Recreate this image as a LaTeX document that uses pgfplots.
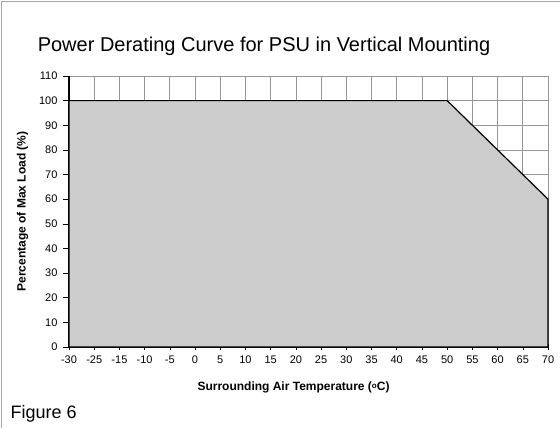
\documentclass[border=0pt]{standalone}
\usepackage{fontspec}
\setmainfont{Liberation Sans}
\usepackage{pgfplots}
\pgfplotsset{compat=1.18}
\definecolor{fillgray}{RGB}{204,204,204}
\definecolor{gridgray}{RGB}{150,150,150}
\begin{document}
\begin{tikzpicture}[x=1bp,y=1bp]
\path[use as bounding box, fill=white] (0,0) rectangle (560,428);
\draw[gray!70, line width=1.2bp] (1.5,0) -- (1.5,426.5) -- (560,426.5);
\node[anchor=center, font=\fontsize{20bp}{22bp}\selectfont] at (264,382) {Power Derating Curve for PSU in Vertical Mounting};
\node[anchor=base west, font=\fontsize{18bp}{20bp}\selectfont] at (7,10) {Figure 6};
\begin{axis}[
  at={(69bp,81bp)}, anchor=origin,
  scale only axis, width=479bp, height=271bp,
  xmin=0, xmax=19, ymin=0, ymax=110,
  xtick={0,...,19},
  xticklabels={-30,-25,-15,-10,-5,0,5,10,15,20,25,30,35,40,45,50,55,60,65,70},
  ytick={0,10,...,110},
  axis x line*=bottom, axis y line*=left,
  axis line style={-, black, line width=1.2bp},
  x tick style={black, line width=0.6bp},
  y tick style={black, line width=0.6bp},
  xtick align=center, ytick align=outside,
  major tick length=6bp,
  grid=major,
  major grid style={gridgray, line width=0.8bp},
  tick label style={font=\fontsize{11bp}{13bp}\selectfont},
  /pgf/number format/assume math mode=true,
  xticklabel style={yshift=-2bp},
  yticklabel style={xshift=-2bp},
  xlabel={\textbf{Surrounding Air Temperature ({\fontsize{8bp}{9bp}\selectfont\raisebox{2bp}{o}}C)}},
  ylabel={\textbf{Percentage of Max Load (\%)}},
  label style={font=\fontsize{12bp}{14bp}\selectfont},
  xlabel style={yshift=-12bp, xshift=-15bp},
  ylabel style={yshift=4bp},
  clip=false,
]
\addplot[fill=fillgray, draw=black, line width=1.2bp] coordinates {(0,100) (15,100) (19,60)} \closedcycle;
\end{axis}
\end{tikzpicture}
\end{document}
